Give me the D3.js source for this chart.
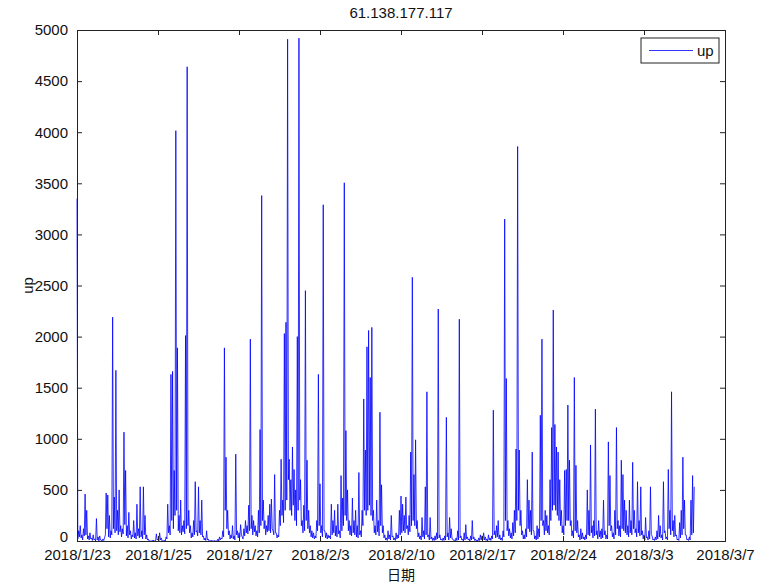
<!DOCTYPE html>
<html>
<head>
  <meta charset="utf-8">
  <title>61.138.177.117</title>
  <script src="https://d3js.org/d3.v7.min.js"></script>
  <style>
    body { margin: 0; background: #fff; }
    text { font-family: "Liberation Sans", Arial, sans-serif; fill: #111; }
  </style>
</head>
<body>
  <svg width="760" height="585"></svg>

  <script>
    // tick labels of the x axis (evenly spaced in sample index)
    const dateLabels = ["2018/1/23", "2018/1/25", "2018/1/27", "2018/2/3", "2018/2/10",
                        "2018/2/17", "2018/2/24", "2018/3/3", "2018/3/7"];
    const yTicks = d3.range(0, 5001, 500);

    // "up" values, one block per label interval (100 samples each)
    const up0 = [3350,20, 100,40, 150,30, 60,10, 120,50, 460,60, 300,20, 50,10, 80,20, 30,5,
                 60,10, 20,0, 220,10, 40,0, 50,10, 10,0, 20,5, 30,60, 470,120, 450,40,
                 250,30, 100,60, 2190,120, 430,80, 1670,100, 300,60, 500,90, 150,40, 120,70, 1065,160,
                 690,50, 150,30, 280,60, 100,20, 60,40, 200,30, 80,20, 360,50, 120,30, 530,40,
                 100,20, 530,60, 250,20, 60,10, 20,0, 0,0, 0,0, 10,0, 0,0, 70,10];
    const up1 = [20,0, 80,10, 30,0, 0,0, 10,0, 40,20, 360,80, 150,60, 1630,200, 1660,120,
                 690,250, 4015,300, 1890,100, 250,80, 400,60, 150,90, 200,70, 2010,120, 4640,150, 300,80,
                 150,30, 80,40, 200,60, 580,90, 100,50, 530,80, 200,60, 400,40, 50,10, 30,5,
                 100,10, 20,0, 0,0, 10,0, 0,0, 5,0, 0,0, 20,0, 40,10, 30,20,
                 100,40, 1890,300, 820,120, 300,60, 100,20, 60,30, 150,20, 50,10, 850,60, 100,30];
    const up2 = [80,40, 160,60, 40,20, 120,50, 200,80, 150,70, 350,100, 1975,120, 250,60, 200,90,
                 150,50, 100,40, 300,80, 1090,150, 3380,200, 400,120, 200,60, 150,90, 250,100, 360,80,
                 410,120, 100,60, 650,80, 80,30, 60,40, 300,150, 800,250, 400,180, 2030,300, 2140,400,
                 4910,600, 800,300, 600,250, 920,350, 700,200, 500,150, 2000,300, 4920,400, 600,150, 200,80,
                 350,100, 2450,200, 790,120, 300,80, 150,40, 100,30, 80,20, 50,30, 200,100, 1630,150];
    const up3 = [560,80, 150,40, 3290,100, 100,30, 80,20, 60,30, 50,20, 360,60, 200,80, 300,50,
                 150,40, 360,70, 100,30, 640,100, 420,150, 3505,250, 1080,200, 500,100, 200,60, 150,50,
                 420,80, 200,60, 300,40, 150,30, 670,60, 100,40, 300,150, 1390,300, 890,250, 1900,300,
                 2060,350, 1600,250, 2090,200, 300,80, 150,60, 400,90, 200,50, 1260,150, 550,80, 150,30,
                 60,10, 30,5, 100,20, 60,10, 250,40, 50,10, 30,5, 80,20, 60,30, 300,60];
    const up4 = [440,80, 360,100, 250,80, 430,120, 150,60, 250,90, 870,150, 2580,200, 650,150, 990,120,
                 200,40, 80,20, 50,10, 230,40, 100,20, 530,60, 1460,40, 60,10, 230,20, 40,5,
                 30,5, 50,10, 80,20, 2270,30, 60,10, 20,5, 30,5, 50,10, 1210,40, 80,10,
                 230,30, 120,20, 20,5, 10,0, 30,5, 100,10, 2170,30, 50,10, 20,0, 80,10,
                 160,20, 40,10, 20,0, 50,10, 200,20, 40,5, 20,0, 10,0, 30,5, 60,10];
    const up5 = [50,10, 80,10, 40,5, 20,0, 60,10, 30,5, 50,20, 1280,60, 100,30, 150,40,
                 200,20, 60,10, 30,5, 100,40, 3150,200, 1590,100, 200,50, 120,30, 80,20, 180,50,
                 300,80, 900,200, 3860,300, 890,150, 300,60, 100,20, 60,20, 120,40, 600,120, 400,90,
                 300,60, 870,100, 100,20, 50,10, 150,20, 120,40, 1230,200, 1975,150, 200,60, 300,100,
                 250,80, 150,60, 600,200, 1110,300, 2260,350, 1140,300, 920,250, 870,200, 600,150, 300,80];
    const up6 = [150,60, 690,150, 700,200, 1330,200, 790,150, 200,50, 100,30, 1600,100, 740,80, 200,40,
                 60,10, 120,20, 80,20, 40,10, 60,20, 500,60, 300,50, 940,80, 150,30, 200,50,
                 1290,60, 100,20, 200,40, 100,20, 120,30, 400,60, 100,20, 60,20, 970,150, 640,100,
                 150,40, 80,20, 300,60, 1110,120, 200,50, 150,40, 790,120, 650,100, 400,80, 300,60,
                 150,40, 400,80, 200,60, 770,120, 300,80, 120,40, 580,80, 200,50, 530,60, 100,20];
    const up7 = [60,10, 230,30, 40,10, 100,20, 530,60, 50,10, 20,5, 40,10, 100,20, 250,40,
                 150,30, 60,10, 580,80, 100,20, 40,10, 700,120, 300,60, 1460,100, 200,40, 250,50,
                 60,10, 20,5, 180,30, 300,60, 820,120, 400,60, 60,10, 20,5, 40,10, 400,60,
                 640,80, 530];

    const upValues = [].concat(up0, up1, up2, up3, up4, up5, up6, up7);
    const perLabel = 100; // samples between two date labels

    const svg = d3.select("svg");
    const margin = { left: 77, right: 35, top: 30, bottom: 44 };
    const W = 760, H = 585;
    const x0 = margin.left, x1 = W - margin.right;
    const y0 = H - margin.bottom, y1 = margin.top;

    const x = d3.scaleLinear().domain([0, perLabel * (dateLabels.length - 1)]).range([x0, x1]);
    const y = d3.scaleLinear().domain([0, 5000]).range([y0, y1]);

    // data line
    const line = d3.line()
      .x((d, i) => x(i))
      .y(d => y(d));

    svg.append("path")
      .datum(upValues)
      .attr("fill", "none")
      .attr("stroke", "#0000ff")
      .attr("stroke-width", 0.8)
      .attr("d", line);

    // box + inward ticks, MATLAB style
    const xTickVals = dateLabels.map((d, i) => i * perLabel);
    const axisColor = "#222";

    const gx = svg.append("g").attr("transform", `translate(0,${y0})`)
      .call(d3.axisBottom(x).tickValues(xTickVals).tickSize(-5).tickPadding(10)
        .tickFormat((d, i) => dateLabels[i]));
    const gxTop = svg.append("g").attr("transform", `translate(0,${y1})`)
      .call(d3.axisTop(x).tickValues(xTickVals).tickSize(-5).tickFormat(""));
    const gy = svg.append("g").attr("transform", `translate(${x0},0)`)
      .call(d3.axisLeft(y).tickValues(yTicks).tickSize(-5).tickPadding(9).tickFormat(d3.format("d")));
    const gyRight = svg.append("g").attr("transform", `translate(${x1},0)`)
      .call(d3.axisRight(y).tickValues(yTicks).tickSize(-5).tickFormat(""));

    [gx, gxTop, gy, gyRight].forEach(g => {
      g.select(".domain").attr("stroke", axisColor);
      g.selectAll(".tick line").attr("stroke", axisColor);
      g.selectAll("text").style("font-size", "15px").attr("fill", "#111")
        .style("font-family", "'Liberation Sans', Arial, sans-serif");
    });
    gx.selectAll("text").attr("dy", "0.6em");
    gy.selectAll("text").filter(d => d === 0).attr("dy", "0.05em");

    // title and axis labels
    svg.append("text")
      .attr("x", (x0 + x1) / 2).attr("y", 18)
      .attr("text-anchor", "middle")
      .style("font-size", "15px")
      .text("61.138.177.117");

    svg.append("text")
      .attr("x", (x0 + x1) / 2).attr("y", 580)
      .attr("text-anchor", "middle")
      .style("font-size", "14px")
      .style("font-family", "'Noto Sans CJK SC', sans-serif")
      .text("日期");

    svg.append("text")
      .attr("transform", `translate(33,${(y0 + y1) / 2}) rotate(-90)`)
      .attr("text-anchor", "middle")
      .style("font-size", "15px")
      .text("up");

    // legend
    const lg = svg.append("g").attr("transform", "translate(641,38)");
    lg.append("rect")
      .attr("width", 78).attr("height", 25)
      .attr("fill", "#fff").attr("stroke", axisColor).attr("stroke-width", 1);
    lg.append("line")
      .attr("x1", 8).attr("x2", 52).attr("y1", 12.5).attr("y2", 12.5)
      .attr("stroke", "#0000ff").attr("stroke-width", 0.8);
    lg.append("text")
      .attr("x", 56).attr("y", 18)
      .style("font-size", "15px")
      .text("up");
  </script>
</body>
</html>
